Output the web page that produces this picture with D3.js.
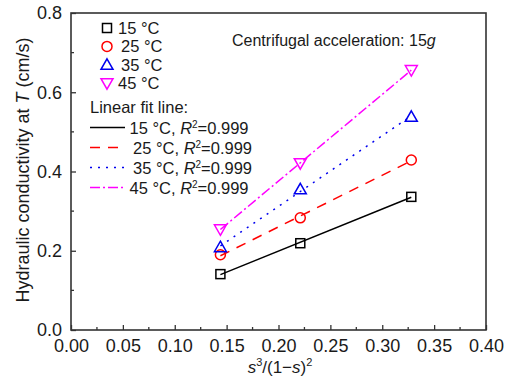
<!DOCTYPE html>
<html>
<head>
<meta charset="utf-8">
<script src="https://cdn.jsdelivr.net/npm/d3@7"></script>
<style>
  body { margin: 0; background: #fff; }
  text { font-family: "Liberation Sans", Arial, sans-serif; fill: #1a1a1a; }
</style>
</head>
<body>
<div id="chart"></div>
<script>
// values
var sValues = [0.144, 0.221, 0.328];
var k15 = [0.141, 0.219, 0.336];
var k25 = [0.190, 0.283, 0.429];
var k35 = [0.209, 0.355, 0.538];
var k45 = [0.254, 0.421, 0.656];
var seriesNames = ["15 °C", "25 °C", "35 °C", "45 °C"];
var xTicks = [0, 0.05, 0.10, 0.15, 0.20, 0.25, 0.30, 0.35, 0.40];
var yTicks = [0, 0.2, 0.4, 0.6, 0.8];

var w = 509, h = 380;
var margin = {top: 13, right: 23, bottom: 50, left: 71};

var svg = d3.select("#chart").append("svg")
  .attr("width", w)
  .attr("height", h);

var x = d3.scaleLinear().domain([0, 0.4]).range([margin.left, w - margin.right]);
var y = d3.scaleLinear().domain([0, 0.8]).range([h - margin.bottom, margin.top]);

var styles = [
  {color: "#000000", dash: null, marker: "square"},
  {color: "#ff0000", dash: "10,8", marker: "circle"},
  {color: "#0000ee", dash: "2,6", marker: "up"},
  {color: "#ff00ff", dash: "10,3,2,3", marker: "down"}
];
var allSeries = [k15, k25, k35, k45];

// least squares fit line for each series
function fit(xs, ys) {
  var n = xs.length;
  var mx = d3.mean(xs), my = d3.mean(ys);
  var sxy = 0, sxx = 0;
  for (var i = 0; i < n; i++) {
    sxy += (xs[i] - mx) * (ys[i] - my);
    sxx += (xs[i] - mx) * (xs[i] - mx);
  }
  var b = sxy / sxx;
  return {b: b, a: my - b * mx};
}

function drawMarker(g, type, cx, cy, color) {
  if (type == "square") {
    g.append("rect").attr("x", cx - 4.5).attr("y", cy - 4.5)
      .attr("width", 9).attr("height", 9)
      .attr("fill", "none").attr("stroke", color).attr("stroke-width", 1.5);
  } else if (type == "circle") {
    g.append("circle").attr("cx", cx).attr("cy", cy).attr("r", 5)
      .attr("fill", "none").attr("stroke", color).attr("stroke-width", 1.5);
  } else if (type == "up") {
    g.append("path").attr("d", "M" + cx + "," + (cy - 6) + "L" + (cx + 6) + "," + (cy + 4.5) + "L" + (cx - 6) + "," + (cy + 4.5) + "Z")
      .attr("fill", "none").attr("stroke", color).attr("stroke-width", 1.5);
  } else {
    g.append("path").attr("d", "M" + cx + "," + (cy + 6) + "L" + (cx + 6) + "," + (cy - 4.5) + "L" + (cx - 6) + "," + (cy - 4.5) + "Z")
      .attr("fill", "none").attr("stroke", color).attr("stroke-width", 1.5);
  }
}

// fit lines
var lines = svg.append("g").attr("id", "fits");
allSeries.forEach(function(ys, i) {
  var f = fit(sValues, ys);
  var x0 = d3.min(sValues), x1 = d3.max(sValues);
  lines.append("line")
    .attr("x1", x(x0)).attr("y1", y(f.a + f.b * x0))
    .attr("x2", x(x1)).attr("y2", y(f.a + f.b * x1))
    .attr("stroke", styles[i].color)
    .attr("stroke-width", 1.5)
    .attr("stroke-dasharray", styles[i].dash);
});

// points
var pts = svg.append("g").attr("id", "points");
allSeries.forEach(function(ys, i) {
  ys.forEach(function(v, j) {
    drawMarker(pts, styles[i].marker, x(sValues[j]), y(v), styles[i].color);
  });
});

// axes with inward ticks
var xAxis = d3.axisBottom(x).tickValues(xTicks).tickFormat(d3.format(".2f")).tickSize(-5).tickPadding(9);
var yAxis = d3.axisLeft(y).tickValues(yTicks).tickFormat(d3.format(".1f")).tickSize(-5).tickPadding(9);

var gx = svg.append("g").attr("transform", "translate(0," + (h - margin.bottom) + ")").call(xAxis);
var gy = svg.append("g").attr("transform", "translate(" + margin.left + ",0)").call(yAxis);
[gx, gy].forEach(function(g) {
  g.select(".domain").remove();
  g.selectAll(".tick line").attr("stroke", "#333").attr("stroke-width", 1.3);
  g.selectAll(".tick text").attr("font-size", 18).attr("fill", "#1a1a1a")
    .style("font-family", "'Liberation Sans', Arial, sans-serif");
});

// minor ticks
var minorX = d3.range(0.025, 0.4, 0.05);
var minorY = d3.range(0.1, 0.8, 0.2);
svg.append("g").selectAll("line").data(minorX).enter().append("line")
  .attr("x1", function(d) { return x(d); }).attr("x2", function(d) { return x(d); })
  .attr("y1", h - margin.bottom).attr("y2", h - margin.bottom - 3)
  .attr("stroke", "#333").attr("stroke-width", 1.3);
svg.append("g").selectAll("line").data(minorY).enter().append("line")
  .attr("y1", function(d) { return y(d); }).attr("y2", function(d) { return y(d); })
  .attr("x1", margin.left).attr("x2", margin.left + 3)
  .attr("stroke", "#333").attr("stroke-width", 1.3);

// frame
svg.append("rect")
  .attr("x", margin.left).attr("y", margin.top)
  .attr("width", w - margin.left - margin.right)
  .attr("height", h - margin.top - margin.bottom)
  .attr("fill", "none").attr("stroke", "#333").attr("stroke-width", 1.6);

// axis titles
var xt = svg.append("text").attr("x", 280).attr("y", 373)
  .attr("text-anchor", "middle").attr("font-size", 17);
xt.append("tspan").attr("font-style", "italic").text("s");
xt.append("tspan").attr("font-size", 11).attr("dy", -7).text("3");
xt.append("tspan").attr("dy", 7).text("/(1\u2212");
xt.append("tspan").attr("font-style", "italic").text("s");
xt.append("tspan").text(")");
xt.append("tspan").attr("font-size", 11).attr("dy", -7).text("2");

var yt = svg.append("text")
  .attr("transform", "translate(29," + 170 + ") rotate(-90)")
  .attr("text-anchor", "middle").attr("font-size", 18);
yt.append("tspan").text("Hydraulic conductivity at ");
yt.append("tspan").attr("font-style", "italic").text("T");
yt.append("tspan").text(" (cm/s)");

// annotation
var ann = svg.append("text").attr("x", 232).attr("y", 46).attr("font-size", 16);
ann.append("tspan").text("Centrifugal acceleration: 15");
ann.append("tspan").attr("font-style", "italic").text("g");

// legend: symbols
var leg = svg.append("g").attr("id", "legend");
seriesNames.forEach(function(name, i) {
  var cy = 28 + i * 18.4;
  drawMarker(leg, styles[i].marker, 107, cy, styles[i].color);
  leg.append("text").attr("x", i == 0 || i == 3 ? 118 : 121).attr("y", cy + 6)
    .attr("font-size", 16.5).text(name);
});

// legend: fit lines
leg.append("text").attr("x", 90).attr("y", 113).attr("font-size", 16.5).text("Linear fit line:");
seriesNames.forEach(function(name, i) {
  var cy = 127.5 + i * 20;
  leg.append("line").attr("x1", 90).attr("x2", 125).attr("y1", cy).attr("y2", cy)
    .attr("stroke", styles[i].color).attr("stroke-width", 1.5)
    .attr("stroke-dasharray", styles[i].dash);
  var t = leg.append("text").attr("x", i == 1 || i == 2 ? 133 : 129.5).attr("y", cy + 6)
    .attr("font-size", 16.5);
  t.append("tspan").text(name + ", ");
  t.append("tspan").attr("font-style", "italic").text("R");
  t.append("tspan").attr("font-size", 10).attr("dy", -6).text("2");
  t.append("tspan").attr("dy", 6).text("=0.999");
});
</script>
</body>
</html>
